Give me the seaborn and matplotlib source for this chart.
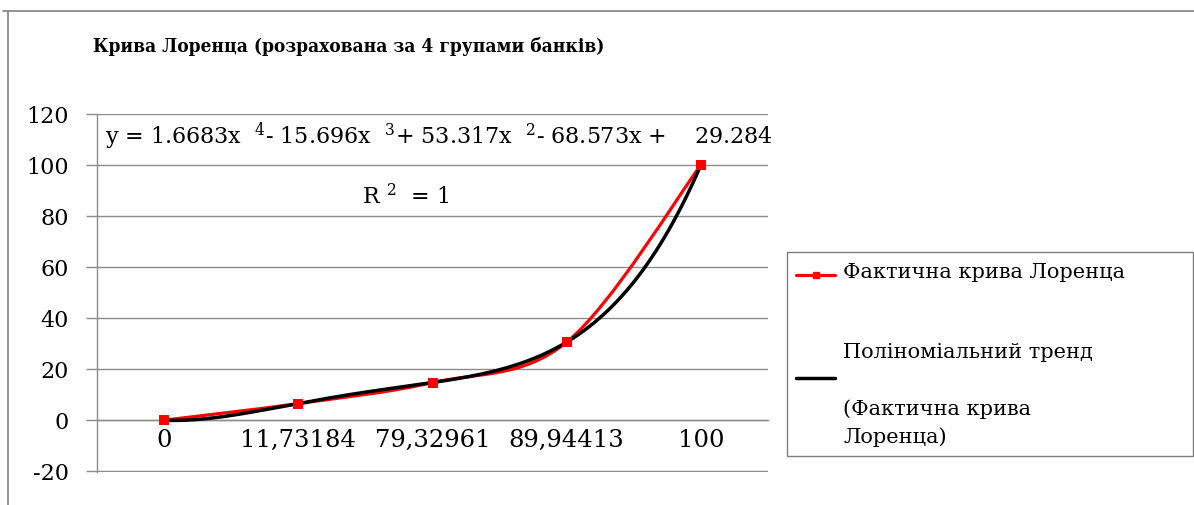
import numpy as np
import pandas as pd
import matplotlib
matplotlib.use('Agg')
import matplotlib.pyplot as plt
import seaborn as sns
from matplotlib.path import Path
from matplotlib.patches import PathPatch, Rectangle
from matplotlib.lines import Line2D

# ---------------- data ----------------
categories = ['0', '11,73184', '79,32961', '89,94413', '100']
lorenz_values = [0.0, 6.53, 14.75, 30.6, 100.0]
y_ticks = [-20, 0, 20, 40, 60, 80, 100, 120]

title = 'Крива Лоренца (розрахована за 4 групами банків)'
series_label = 'Фактична крива Лоренца'
trend_label_lines = ['Поліноміальний тренд', '(Фактична крива', 'Лоренца)']
equation_text = (r'y = 1.6683x  ${}^{4}$- 15.696x  ${}^{3}$+ 53.317x  ${}^{2}$'
                 r'- 68.573x +    29.284')
r2_text = r'R ${}^{2}$  = 1'

# ---------------- style ----------------
sns.set_theme(style='white')
plt.rcParams['font.family'] = ['DejaVu Serif']
plt.rcParams['mathtext.fontset'] = 'dejavuserif'
plt.rcParams['text.color'] = 'black'

W, H = 1194, 505
fig = plt.figure(figsize=(W / 100, H / 100), dpi=100)
fig.patch.set_facecolor('white')


def fx(x):
    return x / W


def fy(y):
    return 1 - y / H


RED = '#FF0000'
GRID = '#8c8c8c'

ax = fig.add_axes([fx(97), fy(472), (768 - 97) / W, (472 - 114) / H])
ax.set_facecolor('white')

pos = np.arange(1, len(categories) + 1)
df = pd.DataFrame({'pos': pos, 'value': lorenz_values})

# smoothed red line (Excel-style Bezier smoothing through the data points)
pts = np.column_stack([pos, lorenz_values]).astype(float)
verts = [tuple(pts[0])]
codes = [Path.MOVETO]
n = len(pts)
for i in range(n - 1):
    p0 = pts[i - 1] if i > 0 else pts[i]
    p1 = pts[i]
    p2 = pts[i + 1]
    p3 = pts[i + 2] if i + 2 < n else pts[i + 1]
    c1 = p1 + (p2 - p0) / 6.0
    c2 = p2 - (p3 - p1) / 6.0
    verts += [tuple(c1), tuple(c2), tuple(p2)]
    codes += [Path.CURVE4] * 3
ax.add_patch(PathPatch(Path(verts, codes), facecolor='none', edgecolor=RED,
                       lw=2.3, zorder=3, capstyle='round'))

# polynomial trend (degree 4) fitted to the series
coef = np.polyfit(pos, lorenz_values, 4)
xs = np.linspace(1, 5, 300)
trend = pd.DataFrame({'x': xs, 'y': np.polyval(coef, xs)})
sns.lineplot(data=trend, x='x', y='y', color='black', lw=2.5, ax=ax, zorder=4)

# markers
sns.scatterplot(data=df, x='pos', y='value', marker='s', color=RED, s=60,
                edgecolor=RED, linewidth=0, ax=ax, zorder=5)

# axes
ax.set_xlim(0.5, 5.5)
ax.set_ylim(-20.3, 120)
ax.set_yticks(y_ticks)
ax.set_yticklabels([str(v) for v in y_ticks])
ax.set_xticks(pos)
ax.set_xticklabels(categories)
ax.set_xticks(np.arange(1.5, 5.6, 1.0), minor=True)
ax.tick_params(axis='x', which='major', length=0, pad=6, labelsize=17.5,
               labelcolor='black')
ax.tick_params(axis='x', which='minor', length=8, direction='out',
               color=GRID, width=1)
ax.tick_params(axis='y', length=8, direction='out', color=GRID, width=1,
               labelsize=16, pad=12, labelcolor='black', left=True)
ax.yaxis.grid(True, color=GRID, lw=1)
ax.xaxis.grid(False)
ax.spines['bottom'].set_position(('data', 0))
for s in ['top', 'right']:
    ax.spines[s].set_visible(False)
for s in ['left', 'bottom']:
    ax.spines[s].set_color(GRID)
    ax.spines[s].set_linewidth(1)
ax.set_xlabel('')
ax.set_ylabel('')

# equation and R^2
fig.text(fx(105), fy(136), equation_text, fontsize=16, va='center', ha='left',
         color='black')
fig.text(fx(362), fy(197), r2_text, fontsize=16, va='center', ha='left',
         color='black')

# title
fig.text(fx(93), fy(46), title, fontsize=13.7, fontweight='bold',
         fontstretch='condensed', va='center', ha='left', color='black')

# chart border
fig.add_artist(Line2D([fx(3), fx(1194)], [fy(11), fy(11)], color='#7f7f7f',
                      lw=1.2, transform=fig.transFigure))
fig.add_artist(Line2D([fx(8), fx(8)], [fy(11), fy(505)], color='#7f7f7f',
                      lw=1.2, transform=fig.transFigure))

# legend (manual, Excel-like)
fig.add_artist(Rectangle((fx(787), fy(456)), fx(1193) - fx(787),
                         fy(252) - fy(456), transform=fig.transFigure,
                         facecolor='white', edgecolor='#7f7f7f', lw=1))
fig.add_artist(Line2D([fx(796), fx(835)], [fy(275), fy(275)], color=RED,
                      lw=2.3, transform=fig.transFigure))
fig.add_artist(Line2D([fx(815.5)], [fy(275)], color=RED, marker='s',
                      markersize=5, lw=0, transform=fig.transFigure))
fig.text(fx(843), fy(273), series_label, fontsize=15, va='center', ha='left',
         color='black')

fig.add_artist(Line2D([fx(796), fx(835)], [fy(378), fy(378)], color='black',
                      lw=2.5, transform=fig.transFigure))
fig.text(fx(843), fy(352), trend_label_lines[0], fontsize=15, va='center',
         ha='left', color='black')
fig.text(fx(843), fy(409), trend_label_lines[1], fontsize=15, va='center',
         ha='left', color='black')
fig.text(fx(843), fy(437), trend_label_lines[2], fontsize=15, va='center',
         ha='left', color='black')

fig.savefig('out.png', dpi=100)
